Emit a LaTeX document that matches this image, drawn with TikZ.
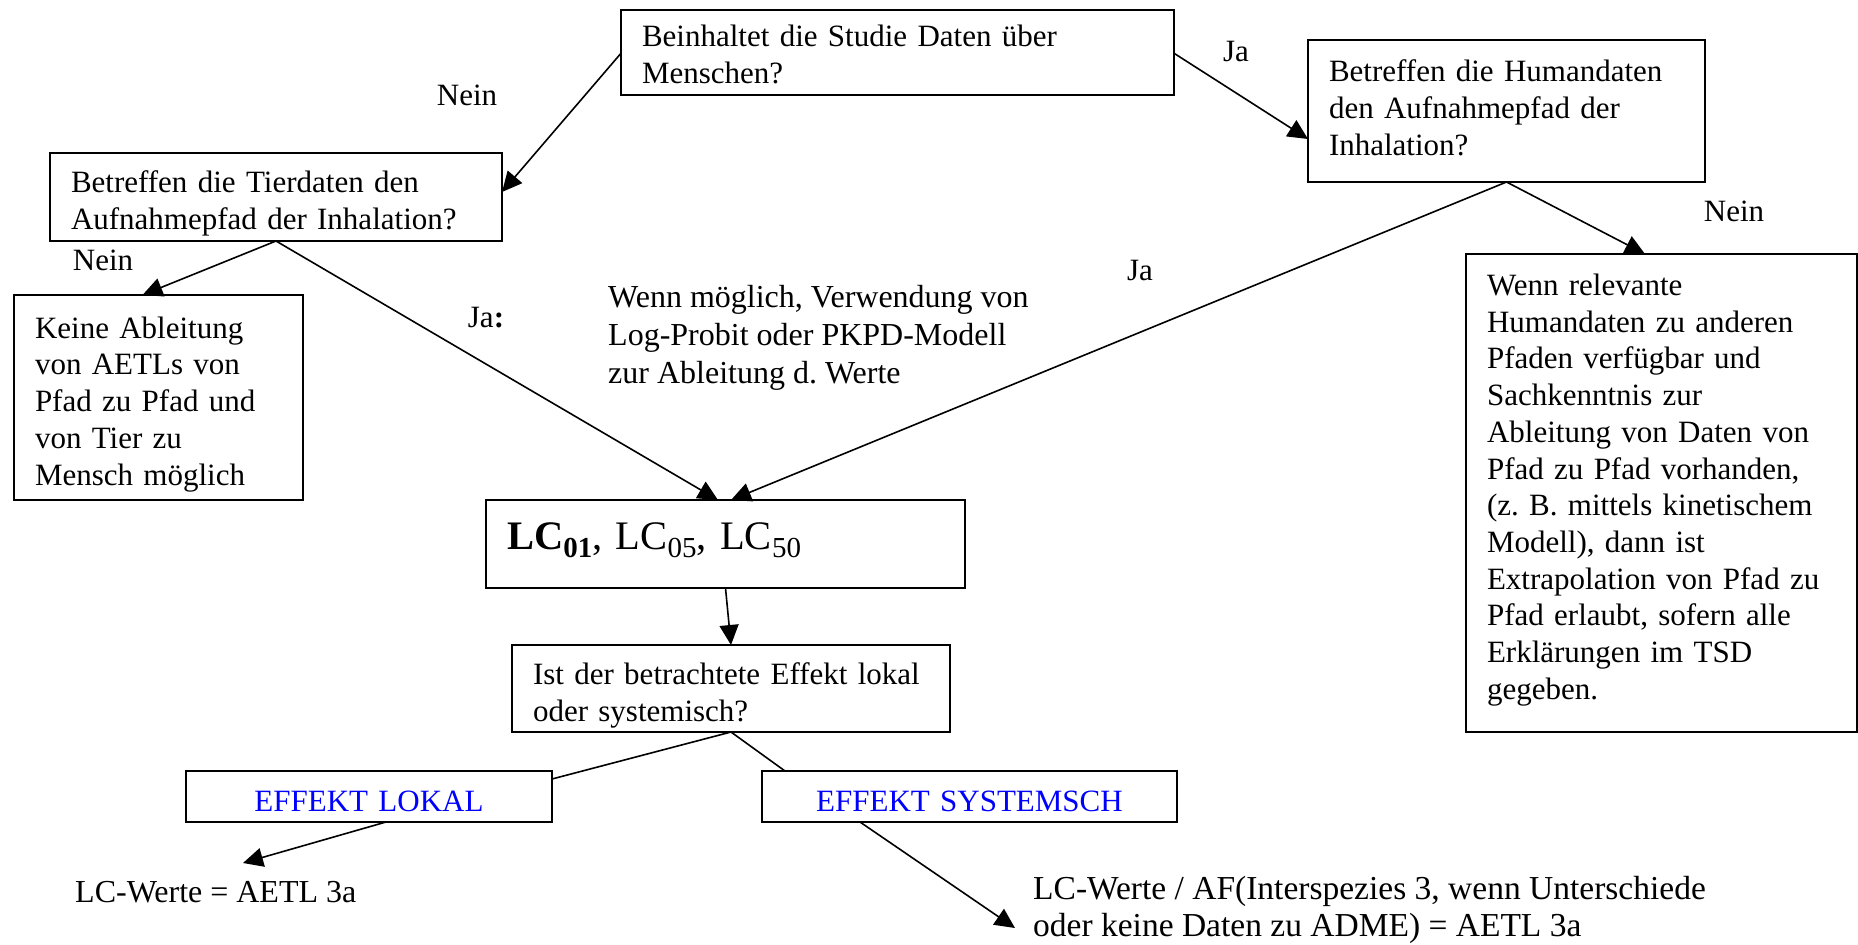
\documentclass[tikz,border=0pt]{standalone}
\usepackage{fontspec}
\setmainfont{Liberation Serif}
\usetikzlibrary{arrows.meta,calc}
\newcommand\myfs{\fontsize{31}{36.7}\selectfont}
\newcommand\lcsub[1]{\raisebox{-8pt}{\fontsize{29}{29}\selectfont #1}}
\newcommand\topstrut[1]{\rule{0pt}{#1}}
\frenchspacing
\begin{document}
\begin{tikzpicture}[x=1pt,y=-1pt,
  box/.style={draw, line width=2pt, rectangle, anchor=north west, inner xsep=21pt, inner ysep=0pt, outer sep=0pt, align=left, font=\myfs},
  cbox/.style={box, align=center, text height=40pt, text depth=10pt},
  lbl/.style={font=\myfs, inner sep=0pt},
  arr/.style={line width=1.6pt, -{Triangle[length=20pt,width=19pt]}},
  ln/.style={line width=1.6pt}]
\useasboundingbox (0,0) rectangle (1858,945);

\node[box, text width=511pt, minimum width=553pt, minimum height=85.5pt] (q1) at (621,9.5)
  {\topstrut{26pt}Beinhaltet die Studie Daten über\\Menschen?};
\node[box, text width=355pt, minimum width=397pt, minimum height=142pt] (hum) at (1308,40)
  {Betreffen die Humandaten\\den Aufnahmepfad der\\Inhalation?\vspace*{6pt}};
\node[box, text width=410pt, minimum width=452pt, minimum height=88pt] (tier) at (50,153)
  {\topstrut{35pt}Betreffen die Tierdaten den\\Aufnahmepfad der Inhalation?};
\node[box, text width=247pt, minimum width=289pt, minimum height=205pt] (keine) at (14,295)
  {\topstrut{35pt}Keine Ableitung\\von AETLs von\\Pfad zu Pfad und\\von Tier zu\\Mensch möglich};
\node[box, text width=349pt, minimum width=391pt, minimum height=478pt] (wenn) at (1466,254)
  {Wenn relevante\\Humandaten zu anderen\\Pfaden verfügbar und\\Sachkenntnis zur\\Ableitung von Daten von\\Pfad zu Pfad vorhanden,\\(z. B. mittels kinetischem\\Modell), dann ist\\Extrapolation von Pfad zu\\Pfad erlaubt, sofern alle\\Erklärungen im TSD\\gegeben.\vspace*{6pt}};
\node[box, text width=437pt, minimum width=479pt, minimum height=88pt, font=\fontsize{40.5}{48}\selectfont, text height=30pt, text depth=20pt] (lc) at (486,500)
  {{\bfseries LC\lcsub{01}}, LC\lcsub{05}, LC\lcsub{50}};
\node[box, text width=396pt, minimum width=438pt, minimum height=87pt] (ist) at (512,645)
  {\topstrut{35pt}Ist der betrachtete Effekt lokal\\oder systemisch?};
\node[cbox, text width=324pt, minimum width=366pt, minimum height=51pt, text=blue] (lokal) at (186,771)
  {EFFEKT LOKAL};
\node[cbox, text width=373pt, minimum width=415pt, minimum height=51pt, text=blue] (sys) at (762,771)
  {EFFEKT SYSTEMSCH};

% labels
\node[lbl] (l1) at (467,95) {Nein};
\node[lbl] (l2) at (1236,52) {Ja};
\node[lbl] (l3) at (103,260) {Nein};
\node[lbl] (l4) at (486,318) {Ja\textbf{:}};
\node[lbl] (l5) at (1140,270) {Ja};
\node[lbl] (l6) at (1734,211) {Nein};
\node[lbl, anchor=west, align=left, font=\fontsize{32}{38}\selectfont] (note) at (608,338)
  {Wenn möglich, Verwendung von\\Log-Probit oder PKPD-Modell\\zur Ableitung d. Werte};
\node[lbl, anchor=west, font=\fontsize{32}{38}\selectfont] (res1) at (75,892) {LC-Werte = AETL 3a};
\node[lbl, anchor=west, align=left, font=\fontsize{33.5}{37}\selectfont] (res2) at (1033,909.5)
  {LC-Werte / AF(Interspezies 3, wenn Unterschiede\\oder keine Daten zu ADME) = AETL 3a};

\coordinate (e1) at (243,863);
\coordinate (e2) at (1015,928);

% connectors
\draw[arr] ([yshift=-1pt]q1.west) -- ([yshift=5pt]tier.east);
\draw[arr] ([yshift=-1pt]q1.east) -- ([yshift=-28pt]hum.west);
\draw[arr] (tier.south) -- ([xshift=-16pt]keine.north);
\draw[arr] (tier.south) -- ([xshift=-7.5pt]lc.north);
\draw[arr] (hum.south) -- ([xshift=5.5pt]lc.north);
\draw[arr] (hum.south) -- ([xshift=-16.5pt]wenn.north);
\draw[arr] (lc.south) -- (ist.north);
\draw[ln] (ist.south) -- ([yshift=17.5pt]lokal.east);
\draw[ln] (ist.south) -- ([xshift=-184.5pt]sys.north);
\draw[arr] ([xshift=17pt]lokal.south) -- (e1);
\draw[arr] ([xshift=-109.5pt]sys.south) -- (e2);
\end{tikzpicture}
\end{document}
